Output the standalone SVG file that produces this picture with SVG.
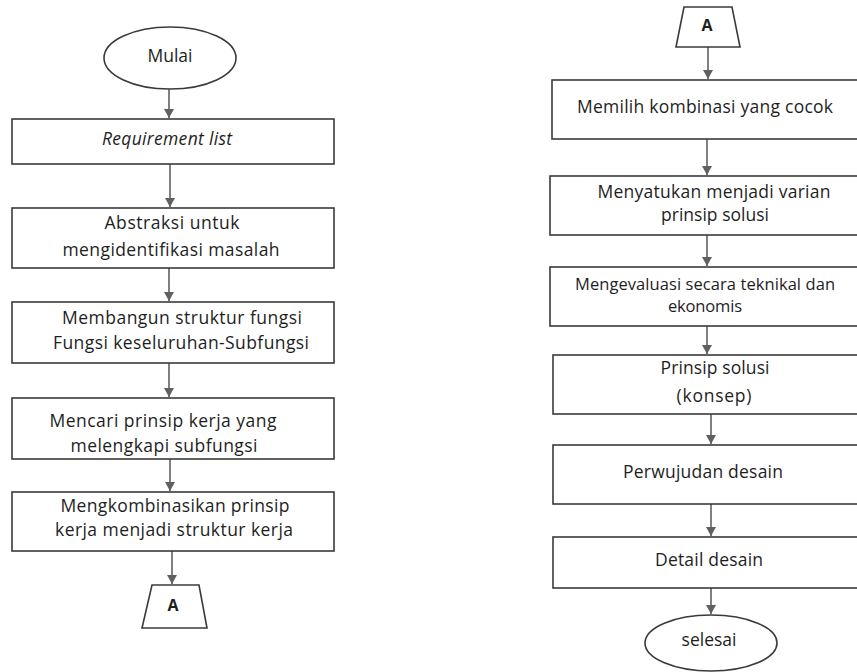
<svg xmlns="http://www.w3.org/2000/svg" width="857" height="672" viewBox="0 0 857 672">
<defs>
<style>
.box{fill:#fff;stroke:#3a3a3a;stroke-width:1.6}
.t{font-family:"Open Sans","Liberation Sans",sans-serif;font-size:17.5px;fill:#1e1e1e;text-anchor:middle}
.s{font-size:16.5px}
.b{font-weight:bold;font-size:16px}
.i{font-style:italic}
.c line{stroke:#606060;stroke-width:1.6;marker-end:url(#ah)}
</style>
<marker id="ah" markerUnits="userSpaceOnUse" markerWidth="10" markerHeight="10" refX="9" refY="5" orient="auto">
<path d="M0,0 L9,5 L0,10 Z" fill="#606060"/>
</marker>
</defs>
<rect width="857" height="672" fill="#fff"/>
<g class="c" id="connectors">
<line x1="169" y1="89" x2="169" y2="118"/>
<line x1="170" y1="164" x2="170" y2="207"/>
<line x1="169" y1="268" x2="169" y2="301"/>
<line x1="169" y1="363" x2="169" y2="397"/>
<line x1="170" y1="459" x2="170" y2="491"/>
<line x1="172" y1="551" x2="172" y2="584"/>
<line x1="708" y1="47" x2="708" y2="79"/>
<line x1="707" y1="139" x2="707" y2="175"/>
<line x1="707" y1="235" x2="707" y2="266"/>
<line x1="707" y1="326" x2="707" y2="354"/>
<line x1="711" y1="414" x2="711" y2="444"/>
<line x1="711" y1="504" x2="711" y2="536"/>
<line x1="711" y1="588" x2="711" y2="614"/>
</g>
<g id="mulai">
<ellipse class="box" cx="170" cy="58" rx="66" ry="31"/>
<text class="t" x="170" y="62">Mulai</text>
</g>
<g id="requirement">
<rect class="box" x="12" y="119" width="322" height="45"/>
<text class="t i" x="167" y="145" textLength="130">Requirement  list</text>
</g>
<g id="abstraksi">
<rect class="box" x="12" y="208" width="322" height="60"/>
<text class="t" x="172" y="229" textLength="135">Abstraksi untuk</text>
<text class="t" x="171" y="256" textLength="217">mengidentifikasi masalah</text>
</g>
<g id="membangun">
<rect class="box" x="12" y="302" width="322" height="61"/>
<text class="t" x="182" y="324" textLength="240">Membangun struktur fungsi</text>
<text class="t" x="181" y="349" textLength="256">Fungsi keseluruhan-Subfungsi</text>
</g>
<g id="mencari">
<rect class="box" x="12" y="398" width="322" height="61"/>
<text class="t" x="163" y="427" textLength="227">Mencari prinsip  kerja yang</text>
<text class="t" x="164" y="452" textLength="187">melengkapi subfungsi</text>
</g>
<g id="mengkombinasikan">
<rect class="box" x="12" y="492" width="322" height="59"/>
<text class="t" x="175" y="512" textLength="229">Mengkombinasikan prinsip</text>
<text class="t" x="174" y="536" textLength="238">kerja menjadi struktur kerja</text>
</g>
<g id="connectorA1">
<polygon class="box" points="152,585 199,585 207,628 142,628"/>
<text class="t b" x="173" y="611">A</text>
</g>
<g id="connectorA2">
<polygon class="box" points="684,7 732,7 740,47 676,47"/>
<text class="t b" x="707" y="31">A</text>
</g>
<g id="memilih">
<rect class="box" x="552" y="80" width="320" height="59"/>
<text class="t" x="705" y="113" textLength="256">Memilih kombinasi yang cocok</text>
</g>
<g id="menyatukan">
<rect class="box" x="550" y="176" width="322" height="59"/>
<text class="t" x="714" y="198" textLength="233">Menyatukan menjadi varian</text>
<text class="t" x="715" y="221" textLength="108">prinsip  solusi</text>
</g>
<g id="mengevaluasi">
<rect class="box" x="550" y="267" width="322" height="59"/>
<text class="t s" x="705" y="290" textLength="260">Mengevaluasi secara teknikal dan</text>
<text class="t s" x="705" y="312" textLength="74">ekonomis</text>
</g>
<g id="prinsip">
<rect class="box" x="553" y="355" width="319" height="59"/>
<text class="t" x="715" y="374" textLength="109">Prinsip solusi</text>
<text class="t" x="714" y="402" textLength="75">(konsep)</text>
</g>
<g id="perwujudan">
<rect class="box" x="553" y="445" width="319" height="59"/>
<text class="t" x="703" y="478" textLength="160">Perwujudan desain</text>
</g>
<g id="detail">
<rect class="box" x="553" y="537" width="319" height="51"/>
<text class="t" x="709" y="566" textLength="108">Detail desain</text>
</g>
<g id="selesai">
<ellipse class="box" cx="711" cy="643" rx="66" ry="28"/>
<text class="t" x="709" y="646">selesai</text>
</g>
</svg>
